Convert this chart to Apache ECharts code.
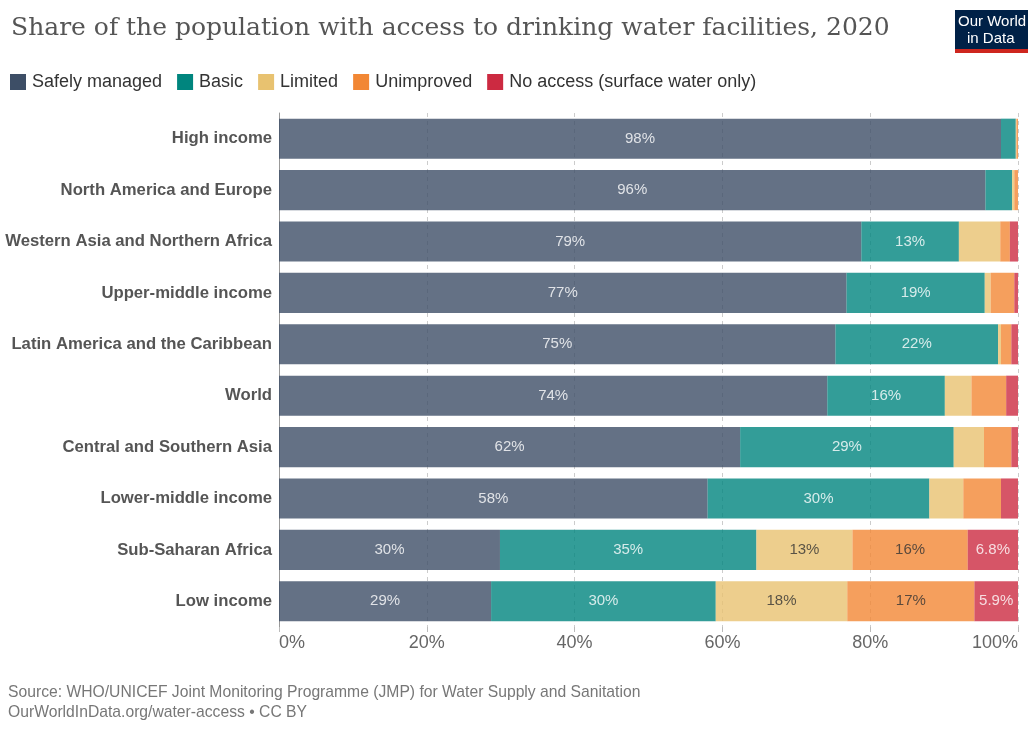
<!DOCTYPE html>
<html>
<head>
<meta charset="utf-8">
<script src="https://cdn.jsdelivr.net/npm/echarts@6/dist/echarts.min.js"></script>
<style>
html,body{margin:0;padding:0;background:#fff;}
#chart{width:1028px;height:733px;}
</style>
</head>
<body>
<div id="chart"></div>
<script>
const categories = [
  "High income",
  "North America and Europe",
  "Western Asia and Northern Africa",
  "Upper-middle income",
  "Latin America and the Caribbean",
  "World",
  "Central and Southern Asia",
  "Lower-middle income",
  "Sub-Saharan Africa",
  "Low income"
];
const safelyManaged = [97.7, 95.6, 78.8, 76.8, 75.3, 74.2, 62.4, 58.0, 29.9, 28.7];
const basic         = [2.0, 3.6, 13.2, 18.7, 22.0, 15.9, 28.9, 30.0, 34.7, 30.4];
const limited       = [0.1, 0.3, 5.6, 0.8, 0.4, 3.6, 4.1, 4.6, 13.0, 17.8];
const unimproved    = [0.2, 0.5, 1.3, 3.2, 1.4, 4.7, 3.7, 5.1, 15.6, 17.2];
const noAccess      = [0.0, 0.0, 1.2, 0.5, 0.9, 1.6, 0.9, 2.3, 6.8, 5.9];
const xTicks = [0, 20, 40, 60, 80, 100];

const seriesDefs = [
  {name: "Safely managed", data: safelyManaged, color: "#3d4e66", label: "#fff"},
  {name: "Basic", data: basic, color: "#00857e", label: "#fff"},
  {name: "Limited", data: limited, color: "#e8c270", label: "#333"},
  {name: "Unimproved", data: unimproved, color: "#f28734", label: "#333"},
  {name: "No access (surface water only)", data: noAccess, color: "#cc2a41", label: "#fff"}
];

const chart = echarts.init(document.getElementById('chart'), null, {renderer: 'canvas'});
const FONT = '"Liberation Sans", Arial, sans-serif';

const option = {
  animation: false,
  backgroundColor: '#fff',
  title: {
    text: 'Share of the population with access to drinking water facilities, 2020',
    left: 6, top: 11,
    textStyle: {fontFamily: '"DejaVu Serif", "Liberation Serif", serif', fontWeight: 'normal', fontSize: 25, color: '#555'}
  },
  legend: {
    left: 10, top: 73, padding: 0,
    icon: 'rect', itemWidth: 16, itemHeight: 16, itemGap: 15,
    itemStyle: {opacity: 1},
    textStyle: {fontFamily: FONT, fontSize: 18, color: '#333', padding: [0,0,0,1]},
    data: seriesDefs.map(s => s.name)
  },
  grid: {left: 279, right: 10, top: 113, bottom: 106, containLabel: false},
  xAxis: {
    type: 'value', min: 0, max: 100, interval: 20,
    axisLine: {show: false},
    axisTick: {show: true, length: 5, lineStyle: {color: '#bbb'}},
    splitLine: {show: true, lineStyle: {color: '#ccc', type: [4, 4]}},
    axisLabel: {
      fontFamily: FONT, fontSize: 18, color: '#666', margin: 7,
      formatter: v => v + '%',
      alignMinLabel: 'left', alignMaxLabel: 'right'
    }
  },
  yAxis: {
    type: 'category', inverse: true, data: categories,
    axisLine: {show: true, lineStyle: {color: '#999'}},
    axisTick: {show: false},
    axisLabel: {fontFamily: FONT, fontSize: 16.7, fontWeight: 'bold', color: '#555', margin: 7}
  },
  series: seriesDefs.map(s => ({
    name: s.name,
    type: 'bar',
    stack: 'total',
    barCategoryGap: '22%',
    data: s.data,
    itemStyle: {color: s.color, opacity: 0.8},
    emphasis: {disabled: true},
    label: {
      show: true, position: 'inside',
      fontFamily: FONT, fontSize: 15, color: s.label,
      formatter: p => p.value >= 5.8 ? (p.value < 10 ? p.value.toFixed(1) : Math.round(p.value)) + '%' : ''
    }
  })),
  graphic: [
    {type: 'rect', left: 955, top: 10, shape: {width: 73, height: 39}, style: {fill: '#002147'}},
    {type: 'rect', left: 955, top: 49, shape: {width: 73, height: 4}, style: {fill: '#ce261e'}},
    {type: 'text', left: 958, top: 14, style: {text: 'Our World', fill: '#fff', font: '15px "Liberation Sans", Arial, sans-serif'}},
    {type: 'text', left: 967, top: 31, style: {text: 'in Data', fill: '#fff', font: '15px "Liberation Sans", Arial, sans-serif'}},
    {type: 'text', left: 8, top: 685, style: {text: 'Source: WHO/UNICEF Joint Monitoring Programme (JMP) for Water Supply and Sanitation', fill: '#777', font: '15.7px "Liberation Sans", Arial, sans-serif'}},
    {type: 'text', left: 8, top: 705, style: {text: 'OurWorldInData.org/water-access • CC BY', fill: '#777', font: '15.7px "Liberation Sans", Arial, sans-serif'}}
  ]
};
chart.setOption(option);
</script>
</body>
</html>
